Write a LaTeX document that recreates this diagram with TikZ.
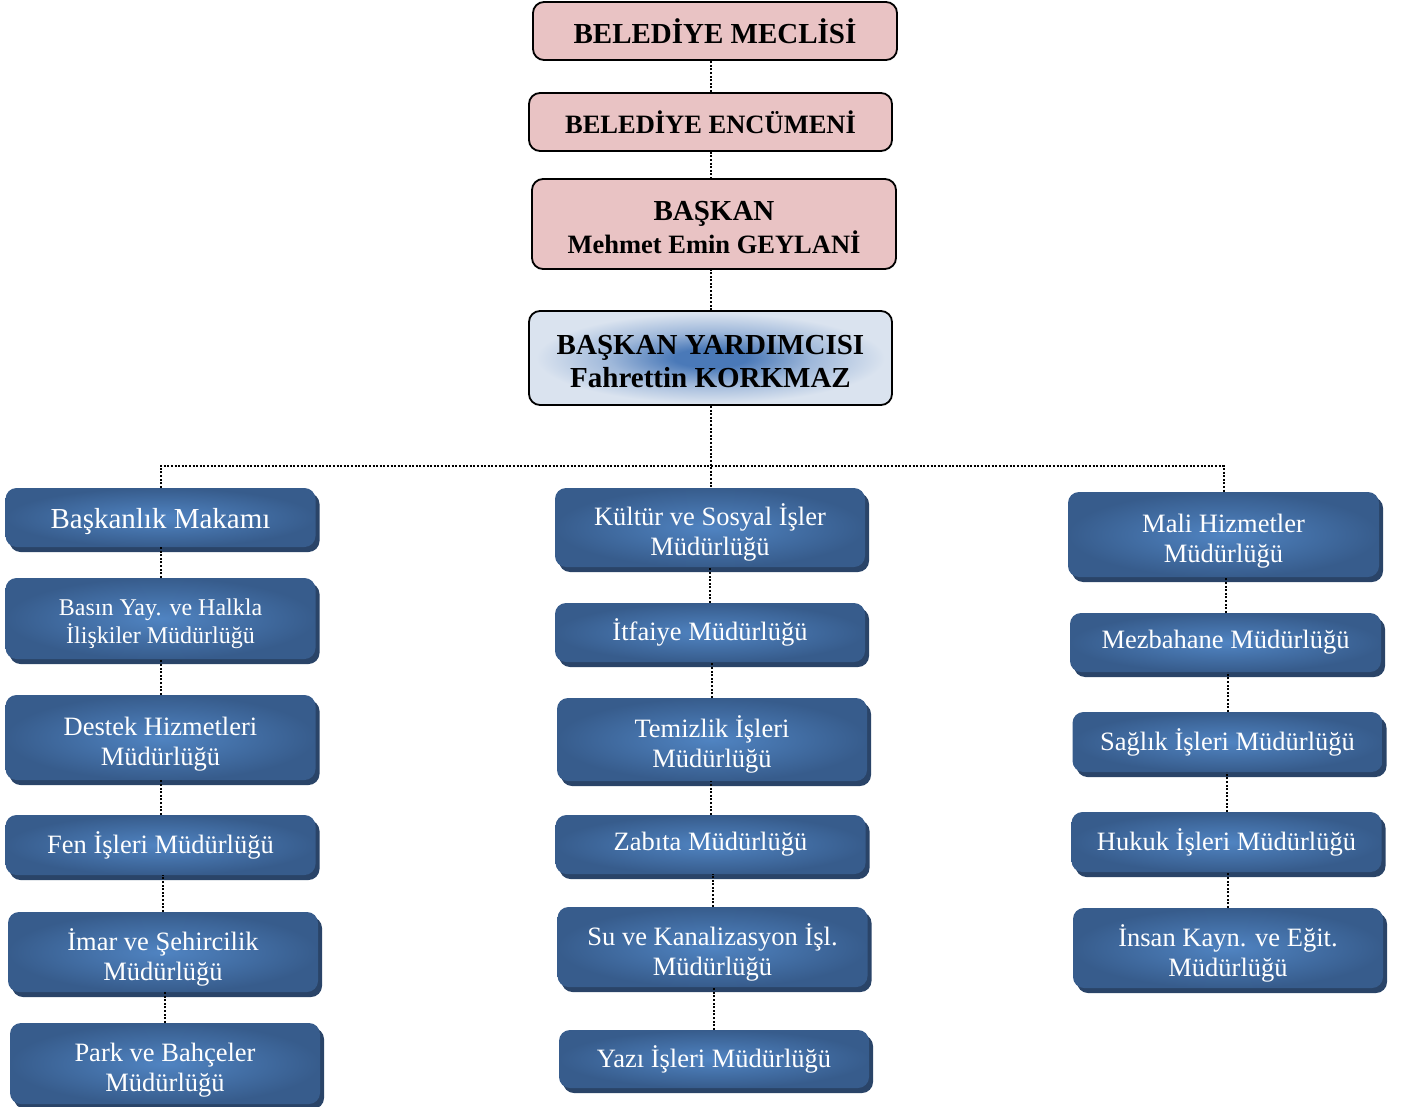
\documentclass[tikz,border=0pt]{standalone}
\usepackage{fontspec}
\setmainfont{Liberation Serif}
\usetikzlibrary{shadows}
\definecolor{bcenter}{HTML}{5084C2}
\definecolor{bedge}{HTML}{375C8C}
\definecolor{bshadow}{HTML}{2A4468}
\definecolor{pinkfill}{HTML}{E9C3C4}
\definecolor{vpc}{HTML}{4A79B8}
\definecolor{vpm}{HTML}{9FB8DA}
\definecolor{vpo}{HTML}{DAE3EF}
\pgfdeclareradialshading{bshade}{\pgfpoint{0bp}{0bp}}{color(0bp)=(bcenter); color(25bp)=(bedge); color(50bp)=(bedge)}
\pgfdeclareradialshading{vpshade}{\pgfpoint{0bp}{0bp}}{color(0bp)=(vpc); color(5bp)=(vpc); color(14bp)=(vpm); color(24bp)=(vpo); color(50bp)=(vpo)}
\newcommand{\liftA}{\rule{0pt}{32pt}}
\newcommand{\liftB}{\rule{0pt}{27pt}}
\tikzset{
  deptbox/.style={rounded corners=11pt, shade, shading=bshade,
    drop shadow={shadow xshift=4pt, shadow yshift=-5pt, fill=bshadow, opacity=1},
    text=white, align=center, inner sep=0pt, minimum width=310pt,
    font=\fontsize{26.5}{30}\selectfont},
  topbox/.style={rounded corners=11pt, draw=black, line width=1.8pt, fill=pinkfill,
    align=center, inner sep=0pt, font=\bfseries\fontsize{29}{33}\selectfont},
  vpbox/.style={rounded corners=11pt, draw=black, line width=1.8pt, shade, shading=vpshade,
    align=center, inner sep=0pt, font=\bfseries\fontsize{29}{33}\selectfont},
  conn/.style={draw=black, line width=2pt, dash pattern=on 2pt off 1.6pt}
}
\begin{document}
\begin{tikzpicture}[x=1pt,y=-1pt]
\useasboundingbox (0,0) rectangle (1405,1107);
% top chain
\node[topbox, minimum width=364pt, minimum height=58pt] (mec) at (715,31) {BELEDİYE MECLİSİ};
\node[topbox, minimum width=363pt, minimum height=58pt, font=\bfseries\fontsize{26.5}{30}\selectfont] (enc) at (710.5,122) {BELEDİYE ENCÜMENİ};
\node[topbox, minimum width=364pt, minimum height=90pt] (bas) at (714,224) {\liftB BAŞKAN\\\fontsize{26.5}{33}\selectfont Mehmet Emin GEYLANİ};
\node[vpbox, minimum width=363pt, minimum height=94pt] (yrd) at (710.5,358) {\liftB BAŞKAN YARDIMCISI\\Fahrettin KORKMAZ};
% left column
\node[deptbox, minimum height=59pt, font=\fontsize{29}{33}\selectfont] (bm) at (160.5,517.5) {\rule{0pt}{28pt}Başkanlık Makamı};
\node[deptbox, minimum height=81pt, font=\fontsize{24}{28}\selectfont] (basin) at (160.5,618.5) {\rule{0pt}{28pt}Basın Yay. ve Halkla\\İlişkiler Müdürlüğü};
\node[deptbox, minimum height=85pt] (destek) at (160.5,737.5) {\liftA Destek Hizmetleri\\Müdürlüğü};
\node[deptbox, minimum height=60pt] (fen) at (160.5,845) {Fen İşleri Müdürlüğü};
\node[deptbox, minimum height=80pt] (imar) at (163,952) {\liftA İmar ve Şehircilik\\Müdürlüğü};
\node[deptbox, minimum height=81pt] (park) at (165,1063.5) {\liftA Park ve Bahçeler\\Müdürlüğü};
% middle column
\node[deptbox, minimum height=79pt] (kultur) at (710,527.5) {\liftA Kültür ve Sosyal İşler\\Müdürlüğü};
\node[deptbox, minimum height=59pt] (itf) at (710,632.5) {İtfaiye Müdürlüğü};
\node[deptbox, minimum height=83pt] (temiz) at (712,739.5) {\liftA Temizlik İşleri\\Müdürlüğü};
\node[deptbox, minimum height=59pt] (zab) at (710.5,844.5) {Zabıta Müdürlüğü};
\node[deptbox, minimum height=80pt] (su) at (712.5,947) {\liftA Su ve Kanalizasyon İşl.\\Müdürlüğü};
\node[deptbox, minimum height=58pt] (yazi) at (714,1059) {Yazı İşleri Müdürlüğü};
% right column
\node[deptbox, minimum width=311pt, minimum height=85pt] (mali) at (1223.5,534.5) {\liftA Mali Hizmetler\\Müdürlüğü};
\node[deptbox, minimum width=311pt, minimum height=59pt] (mezb) at (1225.5,642.5) {Mezbahane Müdürlüğü};
\node[deptbox, minimum height=60pt] (saglik) at (1227.5,742) {Sağlık İşleri Müdürlüğü};
\node[deptbox, minimum height=60pt] (hukuk) at (1226.5,842) {Hukuk İşleri Müdürlüğü};
\node[deptbox, minimum height=80pt] (insan) at (1228,948) {\liftA İnsan Kayn. ve Eğit.\\Müdürlüğü};
% connectors
\draw[conn] (enc.north) -- (enc.north |- mec.south);
\draw[conn] (enc.south) -- (enc.south |- bas.north);
\draw[conn] (yrd.north) -- (yrd.north |- bas.south);
\draw[conn] (yrd.south) -- (yrd.south |- kultur.north);
\draw[conn] (bm.north) -- ++(0,-22) -| (mali.north);
\draw[conn] (basin.north) -- (basin.north |- bm.south);
\draw[conn] (destek.north) -- (destek.north |- basin.south);
\draw[conn] (fen.north) -- (fen.north |- destek.south);
\draw[conn] (imar.north) -- (imar.north |- fen.south);
\draw[conn] (park.north) -- (park.north |- imar.south);
\draw[conn] (itf.north) -- (itf.north |- kultur.south);
\draw[conn] (temiz.north) -- (temiz.north |- itf.south);
\draw[conn] (zab.north) -- (zab.north |- temiz.south);
\draw[conn] (su.north) -- (su.north |- zab.south);
\draw[conn] (yazi.north) -- (yazi.north |- su.south);
\draw[conn] (mezb.north) -- (mezb.north |- mali.south);
\draw[conn] (saglik.north) -- (saglik.north |- mezb.south);
\draw[conn] (hukuk.north) -- (hukuk.north |- saglik.south);
\draw[conn] (insan.north) -- (insan.north |- hukuk.south);
\end{tikzpicture}
\end{document}
